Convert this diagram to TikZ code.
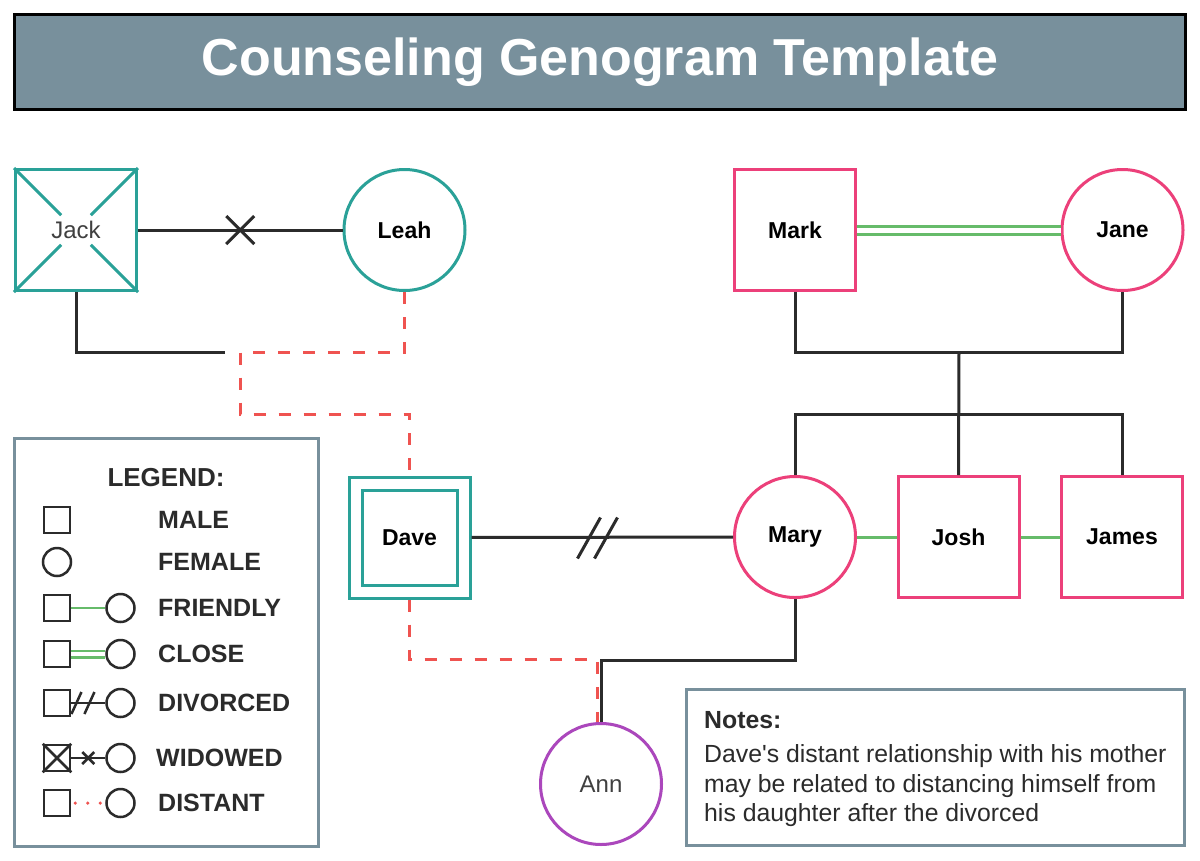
\documentclass[tikz,border=0pt]{standalone}
\usepackage{fontspec}
\setmainfont{Liberation Sans}
\newfontfamily\notefont{Liberation Sans}
\usepackage{tikz}
\usepackage{xcolor}
\usetikzlibrary{positioning}

\definecolor{gTeal}{HTML}{2AA198}
\definecolor{gPink}{HTML}{EC407A}
\definecolor{gPurple}{HTML}{AB47BC}
\definecolor{gGreen}{HTML}{66BB6A}
\definecolor{gRed}{HTML}{EF5350}
\definecolor{gSlate}{HTML}{78909C}
\definecolor{gInk}{HTML}{2B2B2B}

\begin{document}
\begin{tikzpicture}
[
x=1pt, y=-1pt,
male-a/.style={rectangle, draw, line width=3pt, minimum size=121pt, inner sep=0pt},
female-a/.style={circle, draw, line width=3pt, minimum size=121pt, inner sep=0pt},
name-a/.style={font=\fontsize{23}{27}\selectfont\bfseries, text=black},
name-b/.style={font=\fontsize{24}{28}\selectfont, text=gInk!90},
link-a/.style={draw=gInk, line width=3pt},
link-f/.style={draw=gGreen, line width=3pt},
link-c/.style={draw=gGreen, line width=3pt, double=white, double distance=5pt},
link-d/.style={draw=gRed, line width=3pt, dash pattern=on 12pt off 13pt},
key-m/.style={rectangle, draw=gInk, line width=2.5pt, minimum size=26pt, inner sep=0pt},
key-f/.style={circle, draw=gInk, line width=2.5pt, minimum size=28pt, inner sep=0pt},
key-t/.style={anchor=west, inner sep=0pt, font=\fontsize{25}{30}\selectfont\bfseries, text=gInk},
frame-a/.style={draw=gSlate, line width=3pt}
]

\useasboundingbox [fill=white] (0,0) rectangle (1200,860);

% title
\node (title) [draw=black, line width=2.5pt, fill=gSlate, minimum width=1171pt, minimum height=95pt,
               font=\fontsize{52}{60}\selectfont\bfseries, text=white] at (600,62) {Counseling Genogram Template};

% grandparents
\node (jack)  [male-a,   draw=gTeal, name-b]                       at (76,230)  {Jack};
\node (leah)  [female-a, draw=gTeal, name-a, right = 204.5pt of jack]           {Leah};
\node (mark)  [male-a,   draw=gPink, name-a]                       at (795,230) {Mark};
\node (jane)  [female-a, draw=gPink, name-a, right = 203.5pt of mark]           {Jane};

% parents and siblings
\node (dave)    [male-a,   draw=gTeal]                             at (409.5,537.5) {};
\node (dave-in) [male-a,   draw=gTeal, minimum size=95pt, name-a]  at (dave)        {Dave};
\node (mary)    [female-a, draw=gPink, name-a]                     at (795,537)     {Mary};
\node (josh)    [male-a,   draw=gPink, name-a, right = 39.5pt of mary]             {Josh};
\node (james)   [male-a,   draw=gPink, name-a, right = 39.5pt of josh]             {James};

% child
\node (ann)     [female-a, draw=gPurple, name-b]                   at (601,784)     {Ann};

% widowed cross on Jack
\foreach \c in {north west, north east, south west, south east}
  \draw [gTeal, line width=3pt, shorten >=21pt] (jack.\c) -- (jack.center);

% Jack -- Leah (widowed)
\draw [link-a] (jack) -- (leah) coordinate[midway] (jl-x);
\draw [link-a] (jl-x) ++(-14,-14) -- ++(28,28) (jl-x) ++(-14,14) -- ++(28,-28);
\coordinate (jack-end) at (225,352);
\draw [link-a] (jack.south) |- (jack-end);
\draw [link-d] (leah.south) -- ++(0,60) -| (240,414) -| (dave.north);

% Mark == Jane (close)
\draw [link-c] (mark) -- (jane);
\coordinate (mj-c) at (959,352);
\draw [link-a] (mark.south) -- ++(0,60) -| (jane.south);
\draw [link-a] (mj-c) -- (josh.north);
\draw [link-a] (mary.north) -- ++(0,-61) -| (james.north);
\draw [link-f] (mary) -- (mary -| josh.west);
\draw [link-f] (josh) -- (james);

% Dave -- Mary (divorced)
\draw [link-a] (dave) -- (mary);
\coordinate (dm-x) at (598,538);
\foreach \dx in {-9,8}
  \draw [link-a] (dm-x) ++(\dx-11.5,20.5) -- ++(23,-41);

% Ann
\draw [link-d] (dave.south) -- ++(0,60) -| ([xshift=-4pt]ann.north);
\draw [link-a] (mary.south) -- ++(0,61) -| (ann.north);

% legend
\node (legend) [frame-a, minimum width=304pt, minimum height=408pt] at (166.5,642.5) {};
\node (legend-t) [key-t, anchor=center, font=\fontsize{26}{30}\selectfont\bfseries] at (166,478) {LEGEND:};

\node (k-male)  [key-m]                          at (57,520) {};
\node (t-male)  [key-t]                          at (158,520) {MALE};
\node (k-fem)   [key-f]                          at (57,562) {};
\node (t-fem)   [key-t]                          at (158,562) {FEMALE};

\node (k-fr-m)  [key-m]                          at (57,608) {};
\node (k-fr-f)  [key-f, right = 34pt of k-fr-m]              {};
\node (t-fr)    [key-t]                          at (158,608) {FRIENDLY};
\draw [gGreen, line width=2.5pt] (k-fr-m) -- (k-fr-f);

\node (k-cl-m)  [key-m]                          at (57,654) {};
\node (k-cl-f)  [key-f, right = 34pt of k-cl-m]              {};
\node (t-cl)    [key-t]                          at (158,654) {CLOSE};
\draw [gGreen, line width=2.5pt, double=white, double distance=4pt] (k-cl-m) -- (k-cl-f);

\node (k-dv-m)  [key-m]                          at (57,703) {};
\node (k-dv-f)  [key-f, right = 34pt of k-dv-m]              {};
\node (t-dv)    [key-t]                          at (158,703) {DIVORCED};
\draw [gInk, line width=2.5pt] (k-dv-m) -- (k-dv-f) coordinate[pos=0.3] (k-dv-x);
\foreach \dx in {-5,8}
  \draw [gInk, line width=2.5pt] (k-dv-x) ++(\dx-5,11) -- ++(10,-22);

\node (k-wd-m)  [key-m]                          at (57,758) {};
\node (k-wd-f)  [key-f, right = 34pt of k-wd-m]              {};
\node (t-wd)    [key-t]                          at (156,758) {WIDOWED};
\draw [gInk, line width=2.5pt] (k-wd-m.north west) -- (k-wd-m.south east)
                               (k-wd-m.north east) -- (k-wd-m.south west);
\draw [gInk, line width=2.5pt] (k-wd-m) -- (k-wd-f) coordinate[midway] (k-wd-x);
\draw [gInk, line width=2.5pt] (k-wd-x) ++(-6,-6) -- ++(12,12) (k-wd-x) ++(-6,6) -- ++(12,-12);

\node (k-ds-m)  [key-m]                          at (57,803) {};
\node (k-ds-f)  [key-f, right = 34pt of k-ds-m]              {};
\node (t-ds)    [key-t]                          at (158,803) {DISTANT};
\draw [gRed, line width=3.5pt, line cap=round, dash pattern=on 0pt off 12.5pt,
       shorten <=4pt, shorten >=3pt] (k-ds-m) -- (k-ds-f);

% notes
\node (notes) [frame-a, minimum width=498pt, minimum height=156pt] at (935.5,767.5) {};
\node (notes-t) [anchor=north west, align=left, inner sep=0pt, text=gInk,
                 font=\notefont\fontsize{24.8}{29.5}\selectfont] at (704,711)
  {\textbf{Notes:}\\[5pt]Dave's distant relationship with his mother\\may be related to distancing himself from\\his daughter after the divorced};

\end{tikzpicture}
\end{document}
